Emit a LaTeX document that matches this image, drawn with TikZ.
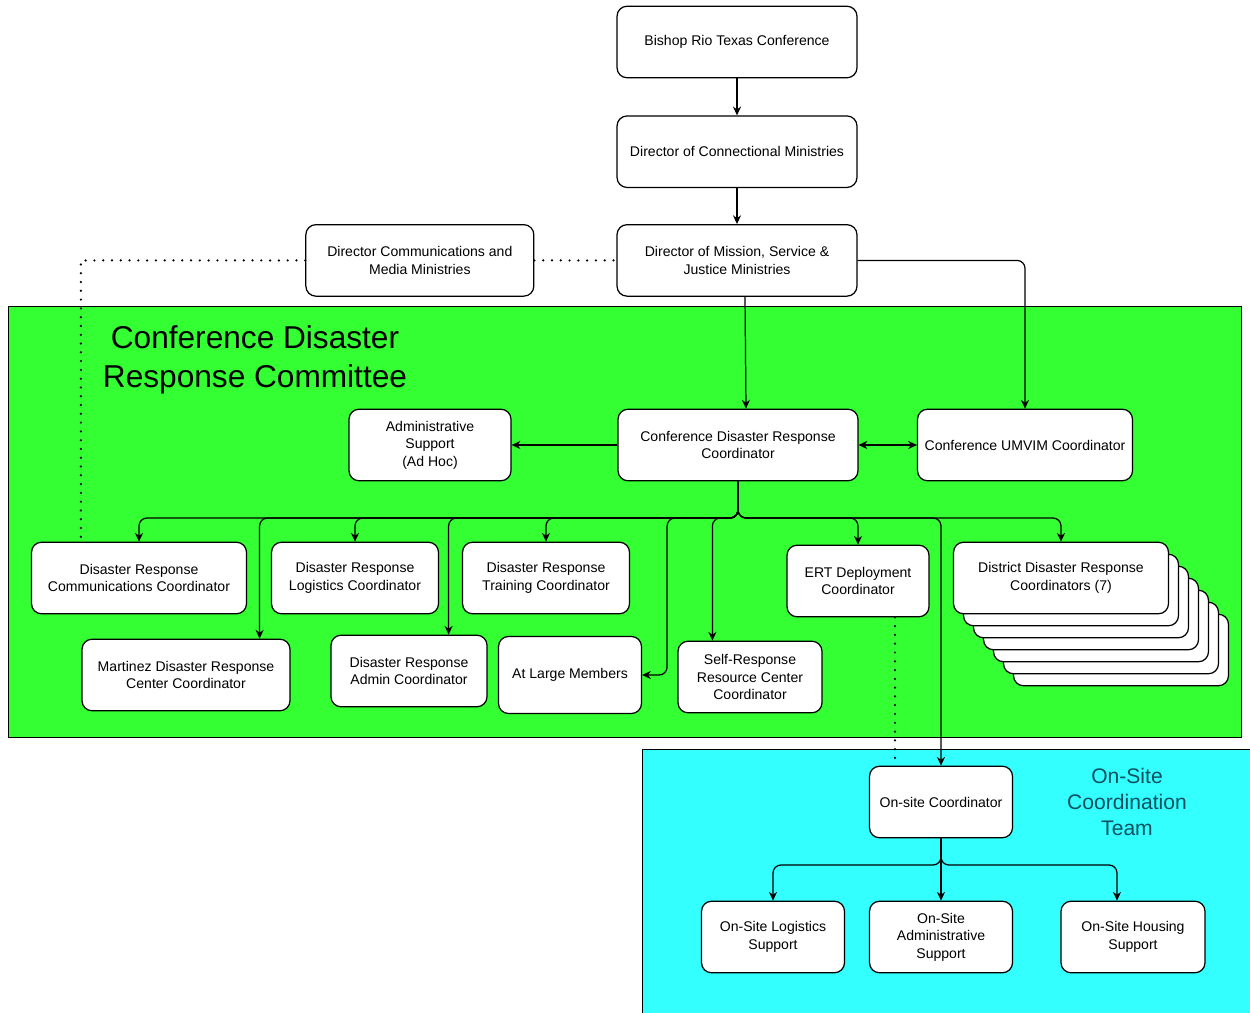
\documentclass[tikz,border=0pt]{standalone}
\usepackage{fontspec}
\setmainfont{Liberation Sans}
\usepackage{xcolor}
\definecolor{colorCommittee}{RGB}{51,255,51}
\definecolor{colorOnSite}{RGB}{51,255,255}
\definecolor{colorTeamText}{RGB}{14,80,96}
\colorlet{colorLink}{black}
\usetikzlibrary{arrows.meta, positioning}
\tikzset{
  role/.style={draw, fill=white, rounded corners=0.2cm, align=center, line width=0.7pt, inner sep=2pt,
    font=\fontsize{8}{10}\selectfont, minimum height=1.43cm},
  link/.style={->, colorLink, line width=0.7pt, rounded corners=0.16cm},
  dotlink/.style={colorLink, line width=1.4pt, dash pattern=on 0pt off 5pt, line cap=round},
  area/.style={draw, line width=0.5pt},
}

\begin{document}
\begin{tikzpicture}[x=0.02cm, y=-0.02cm, >={Stealth[length=5pt,width=4.6pt]}, node distance=0.74cm]
\useasboundingbox (0,0) rectangle (1250,1013);
% areas
\draw[area, fill=colorCommittee] (8,306) rectangle (1241,737);
\draw[area, fill=colorOnSite] (642,749) rectangle (1250,1013);
\node[font=\fontsize{18}{22.5}\selectfont, align=center] (committee) at (255,360) {Conference Disaster\\Response Committee};
\node[font=\fontsize{12}{14.7}\selectfont, align=center, text=colorTeamText] (team) at (1127,802) {On-Site\\Coordination\\Team};

% leadership
\node[role, minimum width=4.8cm] (bishop) at (737,42) {Bishop Rio Texas Conference};
\node[role, minimum width=4.8cm, below=of bishop] (connectional) {Director of Connectional Ministries};
\node[role, minimum width=4.8cm, below=0.72cm of connectional] (mission) {Director of Mission, Service \&\\Justice Ministries};
\node[role, minimum width=4.56cm, left=1.64cm of mission] (media) {Director Communications and\\Media Ministries};

% committee
\node[role, minimum width=4.8cm] (cdr) at (738,445) {Conference Disaster Response\\Coordinator};
\node[role, minimum width=3.24cm] (adminsup) at (430,445) {Administrative\\Support\\(Ad Hoc)};
\node[role, minimum width=4.3cm] (umvim) at (1025,445) {Conference UMVIM Coordinator};
\node[role, minimum width=4.3cm] (drcomm) at (139,578) {Disaster Response\\Communications Coordinator};
\node[role, minimum width=3.34cm] (logistics) at (355,578) {Disaster Response\\Logistics Coordinator};
\node[role, minimum width=3.34cm] (training) at (546,578) {Disaster Response\\Training Coordinator};
\node[role, minimum width=2.84cm] (ert) at (858,581) {ERT Deployment\\Coordinator};
\foreach \k in {6,...,1}
  \node[role, minimum width=4.3cm] (district\k) at (1061+10*\k,578+12*\k) {};
\node[role, minimum width=4.3cm] (district) at (1061,578) {District Disaster Response\\Coordinators (7)};
\node[role, minimum width=4.16cm] (martinez) at (186,675) {Martinez Disaster Response\\Center Coordinator};
\node[role, minimum width=3.12cm] (dradmin) at (409,671) {Disaster Response\\Admin Coordinator};
\node[role, minimum width=2.86cm, minimum height=1.54cm] (atlarge) at (570,675) {At Large Members};
\node[role, minimum width=2.88cm] (selfresp) at (750,677) {Self-Response\\Resource Center\\Coordinator};

% on-site team
\node[role, minimum width=2.86cm] (onsite) at (941,802) {On-site Coordinator};
\node[role, minimum width=2.86cm] (oslogistics) at (773,937) {On-Site Logistics\\Support};
\node[role, minimum width=2.86cm] (osadmin) at (941,937) {On-Site\\Administrative\\Support};
\node[role, minimum width=2.88cm] (oshousing) at (1133,937) {On-Site Housing\\Support};

% links
\draw[link] (bishop) -- (connectional);
\draw[link] (connectional) -- (mission);
\draw[link] ([xshift=0.16cm]mission.south) -- ([xshift=0.16cm]cdr.north);
\draw[link] (mission.east) -| (umvim.north);
\draw[link] (cdr.west) -- (adminsup.east);
\draw[link, <->] (cdr.east) -- (umvim.west);
\draw[dotlink] (media.east) -- (mission.west);
\draw[dotlink] (media.west) -| ([xshift=1cm]drcomm.north west);

\coordinate (cdrbus) at (738,518);
\foreach \t in {drcomm, logistics, training, ert, district, onsite}
  \draw[link] (cdr.south) -- (cdrbus) -| (\t.north);
\draw[link] (cdr.south) -- (cdrbus) -| ([xshift=-0.62cm]martinez.north east);
\draw[link] (cdr.south) -- (cdrbus) -| ([xshift=-0.78cm]dradmin.north east);
\draw[link] (cdr.south) -- (cdrbus) -| ([xshift=0.5cm]atlarge.east) -- (atlarge.east);
\draw[link] (cdr.south) -- (cdrbus) -| ([xshift=0.7cm]selfresp.north west);
\draw[dotlink] ([xshift=0.74cm]ert.south) -- ([xshift=-0.92cm]onsite.north);

\coordinate (osbus) at (941,865);
\draw[link] (onsite.south) -- (osadmin.north);
\draw[link] (onsite.south) -- (osbus) -| (oslogistics.north);
\draw[link] (onsite.south) -- (osbus) -| ([xshift=-0.32cm]oshousing.north);
\end{tikzpicture}
\end{document}
